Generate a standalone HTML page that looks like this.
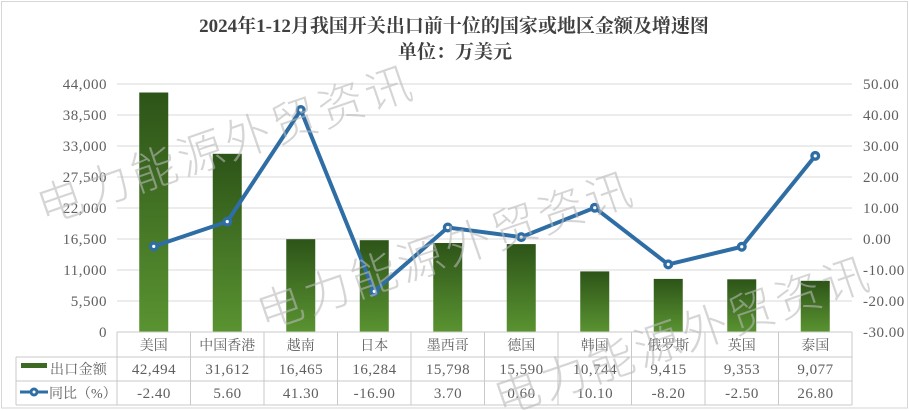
<!DOCTYPE html>
<html>
<head>
<meta charset="utf-8">
<style>
html,body{margin:0;padding:0;background:#fff;}
svg{display:block;}
.ax{font-family:"Liberation Serif","Noto Serif CJK SC",serif;font-size:15px;fill:#5f5f5f;letter-spacing:0.5px;}
.cat{font-family:"Liberation Serif","Noto Serif CJK SC",serif;font-size:14px;fill:#5f5f5f;}
.ttl{font-family:"Liberation Serif","Noto Serif CJK SC",serif;font-size:19px;font-weight:bold;fill:#404040;}
.wm{font-family:"Noto Sans CJK SC","WenQuanYi Zen Hei",sans-serif;font-size:46px;font-weight:300;fill:rgba(185,185,185,0.6);letter-spacing:3.5px;}
</style>
</head>
<body>
<svg width="909" height="411" viewBox="0 0 909 411" xmlns="http://www.w3.org/2000/svg">
<defs>
<linearGradient id="bg" x1="0" y1="0" x2="0" y2="1">
<stop offset="0" stop-color="#2d5418"/>
<stop offset="1" stop-color="#5a9331"/>
</linearGradient>
</defs>
<rect x="0" y="0" width="909" height="411" fill="#fff"/>
<rect x="1.5" y="1.5" width="906" height="406.5" fill="none" stroke="#d6d6d6" stroke-width="1"/>

<!-- Title -->
<text class="ttl" x="454" y="32" text-anchor="middle">2024年1-12月我国开关出口前十位的国家或地区金额及增速图</text>
<text class="ttl" x="455" y="58" text-anchor="middle">单位：万美元</text>

<!-- gridlines -->
<g stroke="#d9d9d9" stroke-width="1">
<line x1="117" y1="84" x2="852" y2="84"/>
<line x1="117" y1="115" x2="852" y2="115"/>
<line x1="117" y1="146" x2="852" y2="146"/>
<line x1="117" y1="177" x2="852" y2="177"/>
<line x1="117" y1="208" x2="852" y2="208"/>
<line x1="117" y1="239" x2="852" y2="239"/>
<line x1="117" y1="270" x2="852" y2="270"/>
<line x1="117" y1="301" x2="852" y2="301"/>
</g>

<!-- left axis labels -->
<g class="ax" text-anchor="end">
<text x="107" y="89">44,000</text>
<text x="107" y="120">38,500</text>
<text x="107" y="151">33,000</text>
<text x="107" y="182">27,500</text>
<text x="107" y="213">22,000</text>
<text x="107" y="244">16,500</text>
<text x="107" y="275">11,000</text>
<text x="107" y="306">5,500</text>
<text x="107" y="337">0</text>
</g>
<!-- right axis labels -->
<g class="ax">
<text x="863" y="89">50.00</text>
<text x="863" y="120">40.00</text>
<text x="863" y="151">30.00</text>
<text x="863" y="182">20.00</text>
<text x="863" y="213">10.00</text>
<text x="863" y="244">0.00</text>
<text x="863" y="275">-10.00</text>
<text x="863" y="306">-20.00</text>
<text x="863" y="337">-30.00</text>
</g>

<!-- bars -->
<g fill="url(#bg)">
<rect x="139.25" y="92.5" width="29" height="239.5"/>
<rect x="212.75" y="153.8" width="29" height="178.2"/>
<rect x="286.25" y="239.2" width="29" height="92.8"/>
<rect x="359.75" y="240.2" width="29" height="91.8"/>
<rect x="433.25" y="243" width="29" height="89"/>
<rect x="506.75" y="244.1" width="29" height="87.9"/>
<rect x="580.25" y="271.4" width="29" height="60.6"/>
<rect x="653.75" y="278.9" width="29" height="53.1"/>
<rect x="727.25" y="279.3" width="29" height="52.7"/>
<rect x="800.75" y="280.8" width="29" height="51.2"/>
</g>

<!-- line -->
<polyline fill="none" stroke="#2f6ea5" stroke-width="4" stroke-linejoin="round" points="153.75,246.4 227.25,221.6 300.75,110 374.25,291.4 447.75,227.5 521.25,237.1 594.75,207.7 668.25,264.4 741.75,246.75 815.25,155.9"/>
<g fill="#2f6ea5">
<circle cx="153.75" cy="246.4" r="5"/>
<circle cx="227.25" cy="221.6" r="5"/>
<circle cx="300.75" cy="110" r="5"/>
<circle cx="374.25" cy="291.4" r="5"/>
<circle cx="447.75" cy="227.5" r="5"/>
<circle cx="521.25" cy="237.1" r="5"/>
<circle cx="594.75" cy="207.7" r="5"/>
<circle cx="668.25" cy="264.4" r="5"/>
<circle cx="741.75" cy="246.75" r="5"/>
<circle cx="815.25" cy="155.9" r="5"/>
</g>
<g fill="#fff">
<circle cx="153.75" cy="246.4" r="1.6"/>
<circle cx="227.25" cy="221.6" r="1.6"/>
<circle cx="300.75" cy="110" r="1.6"/>
<circle cx="374.25" cy="291.4" r="1.6"/>
<circle cx="447.75" cy="227.5" r="1.6"/>
<circle cx="521.25" cy="237.1" r="1.6"/>
<circle cx="594.75" cy="207.7" r="1.6"/>
<circle cx="668.25" cy="264.4" r="1.6"/>
<circle cx="741.75" cy="246.75" r="1.6"/>
<circle cx="815.25" cy="155.9" r="1.6"/>
</g>

<!-- table -->
<g stroke="#c9c9c9" stroke-width="1" fill="none">
<line x1="117" y1="332" x2="852" y2="332"/>
<line x1="16" y1="357" x2="852" y2="357"/>
<line x1="16" y1="381" x2="852" y2="381"/>
<line x1="16" y1="405" x2="852" y2="405"/>
<line x1="16" y1="357" x2="16" y2="405"/>
<line x1="117" y1="332" x2="117" y2="405"/>
<line x1="190.5" y1="332" x2="190.5" y2="405"/>
<line x1="264" y1="332" x2="264" y2="405"/>
<line x1="337.5" y1="332" x2="337.5" y2="405"/>
<line x1="411" y1="332" x2="411" y2="405"/>
<line x1="484.5" y1="332" x2="484.5" y2="405"/>
<line x1="558" y1="332" x2="558" y2="405"/>
<line x1="631.5" y1="332" x2="631.5" y2="405"/>
<line x1="705" y1="332" x2="705" y2="405"/>
<line x1="778.5" y1="332" x2="778.5" y2="405"/>
<line x1="852" y1="332" x2="852" y2="405"/>
</g>

<!-- legend -->
<rect x="21" y="363" width="26" height="5" fill="#3b6b22"/>
<line x1="20" y1="392" x2="48" y2="392" stroke="#2f6ea5" stroke-width="3"/>
<circle cx="34" cy="392" r="4.5" fill="#2f6ea5"/>
<circle cx="34" cy="392" r="1.5" fill="#fff"/>
<text class="cat" x="50" y="374" letter-spacing="0.3">出口金额</text>
<text class="cat" x="49" y="398">同比（%）</text>

<g class="cat" text-anchor="middle">
<text x="153.75" y="350">美国</text>
<text x="227.25" y="350">中国香港</text>
<text x="300.75" y="350">越南</text>
<text x="374.25" y="350">日本</text>
<text x="447.75" y="350">墨西哥</text>
<text x="521.25" y="350">德国</text>
<text x="594.75" y="350">韩国</text>
<text x="668.25" y="350">俄罗斯</text>
<text x="741.75" y="350">英国</text>
<text x="815.25" y="350">泰国</text>
</g>
<g class="ax" text-anchor="middle">
<text x="154" y="374">42,494</text>
<text x="227.5" y="374">31,612</text>
<text x="301" y="374">16,465</text>
<text x="374.5" y="374">16,284</text>
<text x="448" y="374">15,798</text>
<text x="521.5" y="374">15,590</text>
<text x="595" y="374">10,744</text>
<text x="668.5" y="374">9,415</text>
<text x="742" y="374">9,353</text>
<text x="815.5" y="374">9,077</text>
<text x="154" y="398">-2.40</text>
<text x="227.5" y="398">5.60</text>
<text x="301" y="398">41.30</text>
<text x="374.5" y="398">-16.90</text>
<text x="448" y="398">3.70</text>
<text x="521.5" y="398">0.60</text>
<text x="595" y="398">10.10</text>
<text x="668.5" y="398">-8.20</text>
<text x="742" y="398">-2.50</text>
<text x="815.5" y="398">26.80</text>
</g>

<!-- watermarks -->
<g class="wm" text-anchor="middle">
<text transform="translate(231,160) rotate(-19)">电力能源外贸资讯</text>
<text transform="translate(451,266) rotate(-19)">电力能源外贸资讯</text>
<text transform="translate(688,351) rotate(-19)">电力能源外贸资讯</text>
</g>
</svg>
</body>
</html>
